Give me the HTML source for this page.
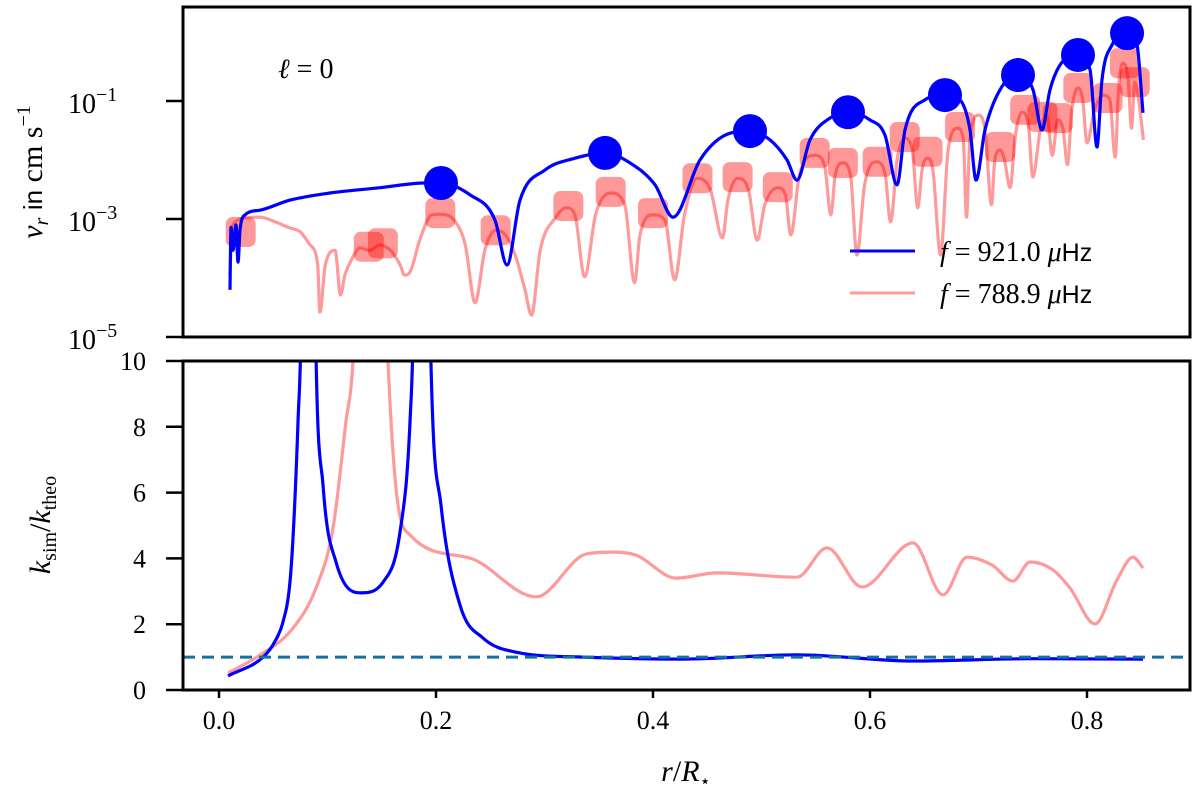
<!DOCTYPE html>
<html><head><meta charset="utf-8"><style>
html,body{margin:0;padding:0;background:#fff;}
svg{display:block;font-family:"Liberation Serif",serif;}
</style></head><body>
<svg id="chart" width="1200" height="805" viewBox="0 0 1200 805" xmlns="http://www.w3.org/2000/svg">
<defs>
<clipPath id="clipTop"><rect x="183" y="7" width="1007" height="330"/></clipPath>
<clipPath id="clipBot"><rect x="183" y="361" width="1007" height="329"/></clipPath>
</defs>
<g id="top-marks" clip-path="url(#clipTop)"></g>
<g id="bot-marks" clip-path="url(#clipBot)"></g>
<rect x="183" y="7" width="1007" height="330" fill="none" stroke="#000" stroke-width="3"/>
<rect x="183" y="361" width="1007" height="329" fill="none" stroke="#000" stroke-width="3"/>
<g id="axes"></g>
<text x="278" y="78" font-size="28"><tspan font-style="italic">ℓ</tspan> = 0</text>
<g>
<line x1="850" y1="251" x2="915" y2="251" stroke="#0000ff" stroke-width="3"/>
<text x="940" y="261" font-size="28"><tspan font-style="italic">f</tspan> = 921.0 <tspan font-style="italic">μ</tspan><tspan font-family="Liberation Sans, sans-serif" font-size="25">Hz</tspan></text>
<line x1="850" y1="293" x2="915" y2="293" stroke="#ff9a9a" stroke-width="3"/>
<text x="940" y="303" font-size="28"><tspan font-style="italic">f</tspan> = 788.9 <tspan font-style="italic">μ</tspan><tspan font-family="Liberation Sans, sans-serif" font-size="25">Hz</tspan></text>
</g>
<text transform="translate(42,172) rotate(-90)" text-anchor="middle" font-size="30"><tspan font-style="italic">v</tspan><tspan font-style="italic" font-size="20" dy="6">r</tspan><tspan dy="-6"> </tspan><tspan font-family="Liberation Sans, sans-serif" font-size="26">in</tspan> cm s<tspan font-size="20" dy="-12">−1</tspan></text>
<text transform="translate(50,525) rotate(-90)" text-anchor="middle" font-size="30"><tspan font-style="italic">k</tspan><tspan font-size="20" dy="6">sim</tspan><tspan dy="-6">/</tspan><tspan font-style="italic">k</tspan><tspan font-size="20" dy="6">theo</tspan></text>
<text x="686" y="781" text-anchor="middle" font-size="30"><tspan font-style="italic">r</tspan>/<tspan font-style="italic">R</tspan><tspan font-size="18" dy="6">⋆</tspan></text>
</svg>
<script>
// ---- data ----
const blueTopR=[0.0101,0.0111,0.0129,0.0157,0.0175,0.0194,0.0240,0.0378,0.0654,0.1023,0.1484,0.1899,0.2046,0.2313,0.2544,0.2654,0.2774,0.3005,0.3281,0.3558,0.3788,0.4018,0.4184,0.4433,0.4664,0.4894,0.5078,0.5235,0.5327,0.5447,0.5631,0.5797,0.6000,0.6138,0.6249,0.6323,0.6507,0.6691,0.6829,0.6922,0.6977,0.7060,0.7198,0.7364,0.7502,0.7585,0.7659,0.7751,0.7917,0.8028,0.8092,0.8138,0.8230,0.8369,0.8461,0.8516];
const blueTopLogV=[-4.20,-3.14,-3.53,-3.10,-3.73,-3.19,-2.93,-2.85,-2.68,-2.56,-2.47,-2.39,-2.39,-2.59,-3.02,-3.78,-2.68,-2.17,-1.97,-1.88,-2.05,-2.42,-2.97,-2.00,-1.58,-1.51,-1.66,-2.00,-2.34,-1.66,-1.29,-1.19,-1.32,-1.58,-2.42,-1.49,-0.98,-0.90,-0.98,-1.49,-2.34,-1.49,-0.81,-0.56,-0.81,-1.49,-0.81,-0.39,-0.22,-0.47,-1.78,-0.64,-0.05,0.15,-0.05,-1.20];
const blueDotR=[0.2046,0.3558,0.4894,0.5797,0.6691,0.7364,0.7917,0.8369];
const blueDotLogV=[-2.39,-1.88,-1.51,-1.19,-0.90,-0.56,-0.22,0.15];
const redTopR=[0.010,0.012,0.015,0.024,0.038,0.052,0.065,0.075,0.084,0.091,0.093,0.098,0.107,0.112,0.116,0.121,0.130,0.139,0.148,0.158,0.167,0.171,0.176,0.185,0.196,0.204,0.218,0.227,0.236,0.245,0.255,0.264,0.273,0.282,0.288,0.296,0.310,0.320,0.328,0.337,0.347,0.361,0.374,0.383,0.388,0.400,0.411,0.420,0.429,0.441,0.453,0.464,0.469,0.478,0.488,0.496,0.503,0.515,0.522,0.527,0.535,0.549,0.558,0.564,0.568,0.575,0.582,0.588,0.595,0.606,0.614,0.619,0.625,0.632,0.639,0.644,0.648,0.653,0.658,0.665,0.672,0.681,0.686,0.689,0.692,0.700,0.706,0.712,0.715,0.720,0.724,0.729,0.734,0.740,0.746,0.750,0.757,0.763,0.768,0.773,0.778,0.782,0.786,0.792,0.796,0.800,0.807,0.815,0.821,0.826,0.829,0.833,0.838,0.841,0.844,0.847,0.852];
const redTopLogV=[-3.95,-3.19,-3.05,-2.98,-2.97,-3.05,-3.15,-3.22,-3.44,-3.78,-4.58,-3.78,-3.53,-4.29,-3.95,-3.73,-3.49,-3.53,-3.44,-3.53,-3.78,-3.95,-3.90,-3.36,-2.93,-2.92,-3.05,-3.44,-4.42,-3.53,-3.19,-3.27,-3.61,-4.20,-4.63,-3.53,-2.98,-2.81,-2.93,-3.98,-2.93,-2.56,-2.76,-4.08,-3.27,-2.93,-3.02,-4.03,-2.93,-2.31,-2.51,-3.32,-2.68,-2.31,-2.51,-3.36,-2.76,-2.47,-2.59,-3.27,-2.25,-1.92,-2.08,-2.93,-2.25,-2.05,-2.25,-3.61,-2.42,-2.03,-2.25,-3.05,-2.00,-1.63,-1.83,-2.81,-2.17,-1.97,-2.17,-3.61,-1.83,-1.46,-1.66,-2.97,-1.66,-1.24,-1.49,-2.76,-2.00,-1.83,-2.00,-2.47,-1.58,-1.19,-1.41,-2.29,-1.49,-1.24,-1.92,-1.32,-1.49,-2.08,-1.15,-0.78,-0.98,-1.71,-1.15,-0.90,-0.98,-1.95,-0.81,-0.36,-0.64,-1.46,-0.68,-0.90,-1.66];
const redBoxR=[0.020,0.138,0.151,0.204,0.255,0.322,0.361,0.400,0.441,0.478,0.515,0.549,0.575,0.607,0.632,0.653,0.683,0.720,0.743,0.759,0.773,0.792,0.819,0.835,0.844];
const redBoxLogV=[-3.22,-3.47,-3.41,-2.90,-3.19,-2.78,-2.54,-2.90,-2.31,-2.29,-2.46,-1.88,-2.05,-2.03,-1.61,-1.86,-1.44,-1.78,-1.15,-1.27,-1.29,-0.78,-0.95,-0.36,-0.68];
const blueBotR=[0.0083,0.0406,0.052,0.059,0.0652,0.0682,0.0728,0.0760,0.082,0.0885,0.0959,0.1078,0.1309,0.1512,0.1668,0.176,0.1795,0.187,0.194,0.2046,0.2221,0.2433,0.2737,0.3355,0.4276,0.5327,0.6396,0.75,0.8516];
const blueBotK=[0.43,1.0,1.5,2.07,3.2,4.62,8.15,12,40,12,6.2,3.89,2.95,3.28,4.8,8.15,12,40,12,5.62,2.58,1.58,1.15,1.0,0.94,1.07,0.88,0.95,0.94];
const redBotR=[0.0083,0.0378,0.0682,0.0894,0.1051,0.117,0.1235,0.13,0.14,0.15,0.1558,0.1631,0.176,0.2313,0.2922,0.3382,0.3631,0.3843,0.4212,0.459,0.5327,0.5604,0.5926,0.6396,0.6673,0.6894,0.7124,0.7318,0.7475,0.7687,0.7843,0.8074,0.8276,0.8424,0.8516];
const redBotK=[0.52,1.06,1.88,3.10,4.92,8.15,10.03,16,40,16,10.03,6.14,4.71,4.01,2.83,4.13,4.19,4.10,3.40,3.56,3.43,4.32,3.13,4.47,2.89,4.04,3.80,3.31,3.89,3.65,3.10,2.01,3.34,4.04,3.71];
const refK=1;
const xTicks=[0.0,0.2,0.4,0.6,0.8];
const xTickLabels=["0.0","0.2","0.4","0.6","0.8"];
const topTicks=[-1,-3,-5];
const topTickLabels=["−1","−3","−5"];
const botTicks=[0,2,4,6,8,10];
const botTickLabels=["0","2","4","6","8","10"];

// ---- axes ----
const X=r=>219+r*1085;
const YT=l=>101-(l+1)*59;
const YB=k=>690-k*32.9;
const NS="http://www.w3.org/2000/svg";
function mk(tag,attrs,parent){const e=document.createElementNS(NS,tag);for(const k in attrs)e.setAttribute(k,attrs[k]);parent.appendChild(e);return e;}
// monotone cubic path in pixel space
function pathD(xs,ys,fx,fy){
  const px=xs.map(fx), py=ys.map(fy), n=px.length;
  const d=[],m=new Array(n).fill(0);
  for(let i=0;i<n-1;i++){const dx=px[i+1]-px[i];d.push(dx>0?(py[i+1]-py[i])/dx:0);}
  m[0]=d[0];m[n-1]=d[n-2];
  for(let i=1;i<n-1;i++){m[i]=(d[i-1]*d[i]<=0)?0:(d[i-1]+d[i])/2;}
  for(let i=0;i<n-1;i++){
    if(d[i]===0){m[i]=0;m[i+1]=0;continue;}
    const a=m[i]/d[i],b=m[i+1]/d[i],s=a*a+b*b;
    if(s>9){const t=3/Math.sqrt(s);m[i]=t*a*d[i];m[i+1]=t*b*d[i];}
  }
  let s='M'+px[0].toFixed(1)+' '+py[0].toFixed(1);
  for(let i=0;i<n-1;i++){
    const h=(px[i+1]-px[i])/3;
    s+=' C'+(px[i]+h).toFixed(1)+' '+(py[i]+m[i]*h).toFixed(1)+' '+(px[i+1]-h).toFixed(1)+' '+(py[i+1]-m[i+1]*h).toFixed(1)+' '+px[i+1].toFixed(1)+' '+py[i+1].toFixed(1);
  }
  return s;
}
const topG=document.getElementById('top-marks'), botG=document.getElementById('bot-marks'), axG=document.getElementById('axes');

let p=mk('path',{d:pathD(redTopR,redTopLogV,X,YT),fill:'none',stroke:'#ff9a9a','stroke-width':3.2,'stroke-linejoin':'round'},topG);


redBoxR.forEach((r,i)=>{
  const b=mk('rect',{x:X(r)-15,y:YT(redBoxLogV[i])-15,width:30,height:30,rx:7,fill:'rgba(255,0,0,0.4)'},topG);
  
  
});
p=mk('path',{d:pathD(blueTopR,blueTopLogV,X,YT),fill:'none',stroke:'#0000ff','stroke-width':3.2,'stroke-linejoin':'round'},topG);


blueDotR.forEach((r,i)=>{
  const c=mk('circle',{cx:X(r),cy:YT(blueDotLogV[i]),r:17,fill:'#0000ff'},topG);
  
  
});

p=mk('path',{d:pathD(redBotR,redBotK,X,YB),fill:'none',stroke:'#ff9a9a','stroke-width':3.2,'stroke-linejoin':'round'},botG);


p=mk('path',{d:pathD(blueBotR,blueBotK,X,YB),fill:'none',stroke:'#0000ff','stroke-width':3.2,'stroke-linejoin':'round'},botG);


p=mk('line',{x1:183,x2:1190,y1:YB(refK),y2:YB(refK),stroke:'#17719f','stroke-width':3,'stroke-dasharray':'12,7'},botG);



xTicks.forEach((v,i)=>{
  const t=mk('line',{x1:X(v),x2:X(v),y1:690,y2:698,stroke:'#000','stroke-width':2.5},axG);
  
  
  const l=mk('text',{x:X(v),y:729,'text-anchor':'middle','font-size':26},axG);
  l.textContent=xTickLabels[i];
  
  
});
topTicks.forEach((v,i)=>{
  const t=mk('line',{x1:166,x2:183,y1:YT(v),y2:YT(v),stroke:'#000','stroke-width':2.5},axG);
  
  
  const l=mk('text',{x:68,y:YT(v)+12,'font-size':28},axG);
  
  
  const a=mk('tspan',{},l);a.textContent='10';
  const s=mk('tspan',{dy:-12,'font-size':20},l);s.textContent=topTickLabels[i];
});
botTicks.forEach((v,i)=>{
  const t=mk('line',{x1:166,x2:183,y1:YB(v),y2:YB(v),stroke:'#000','stroke-width':2.5},axG);
  
  
  const l=mk('text',{x:146,y:YB(v)+9,'text-anchor':'end','font-size':26},axG);
  l.textContent=botTickLabels[i];
  
  
});
</script>
</body></html>
